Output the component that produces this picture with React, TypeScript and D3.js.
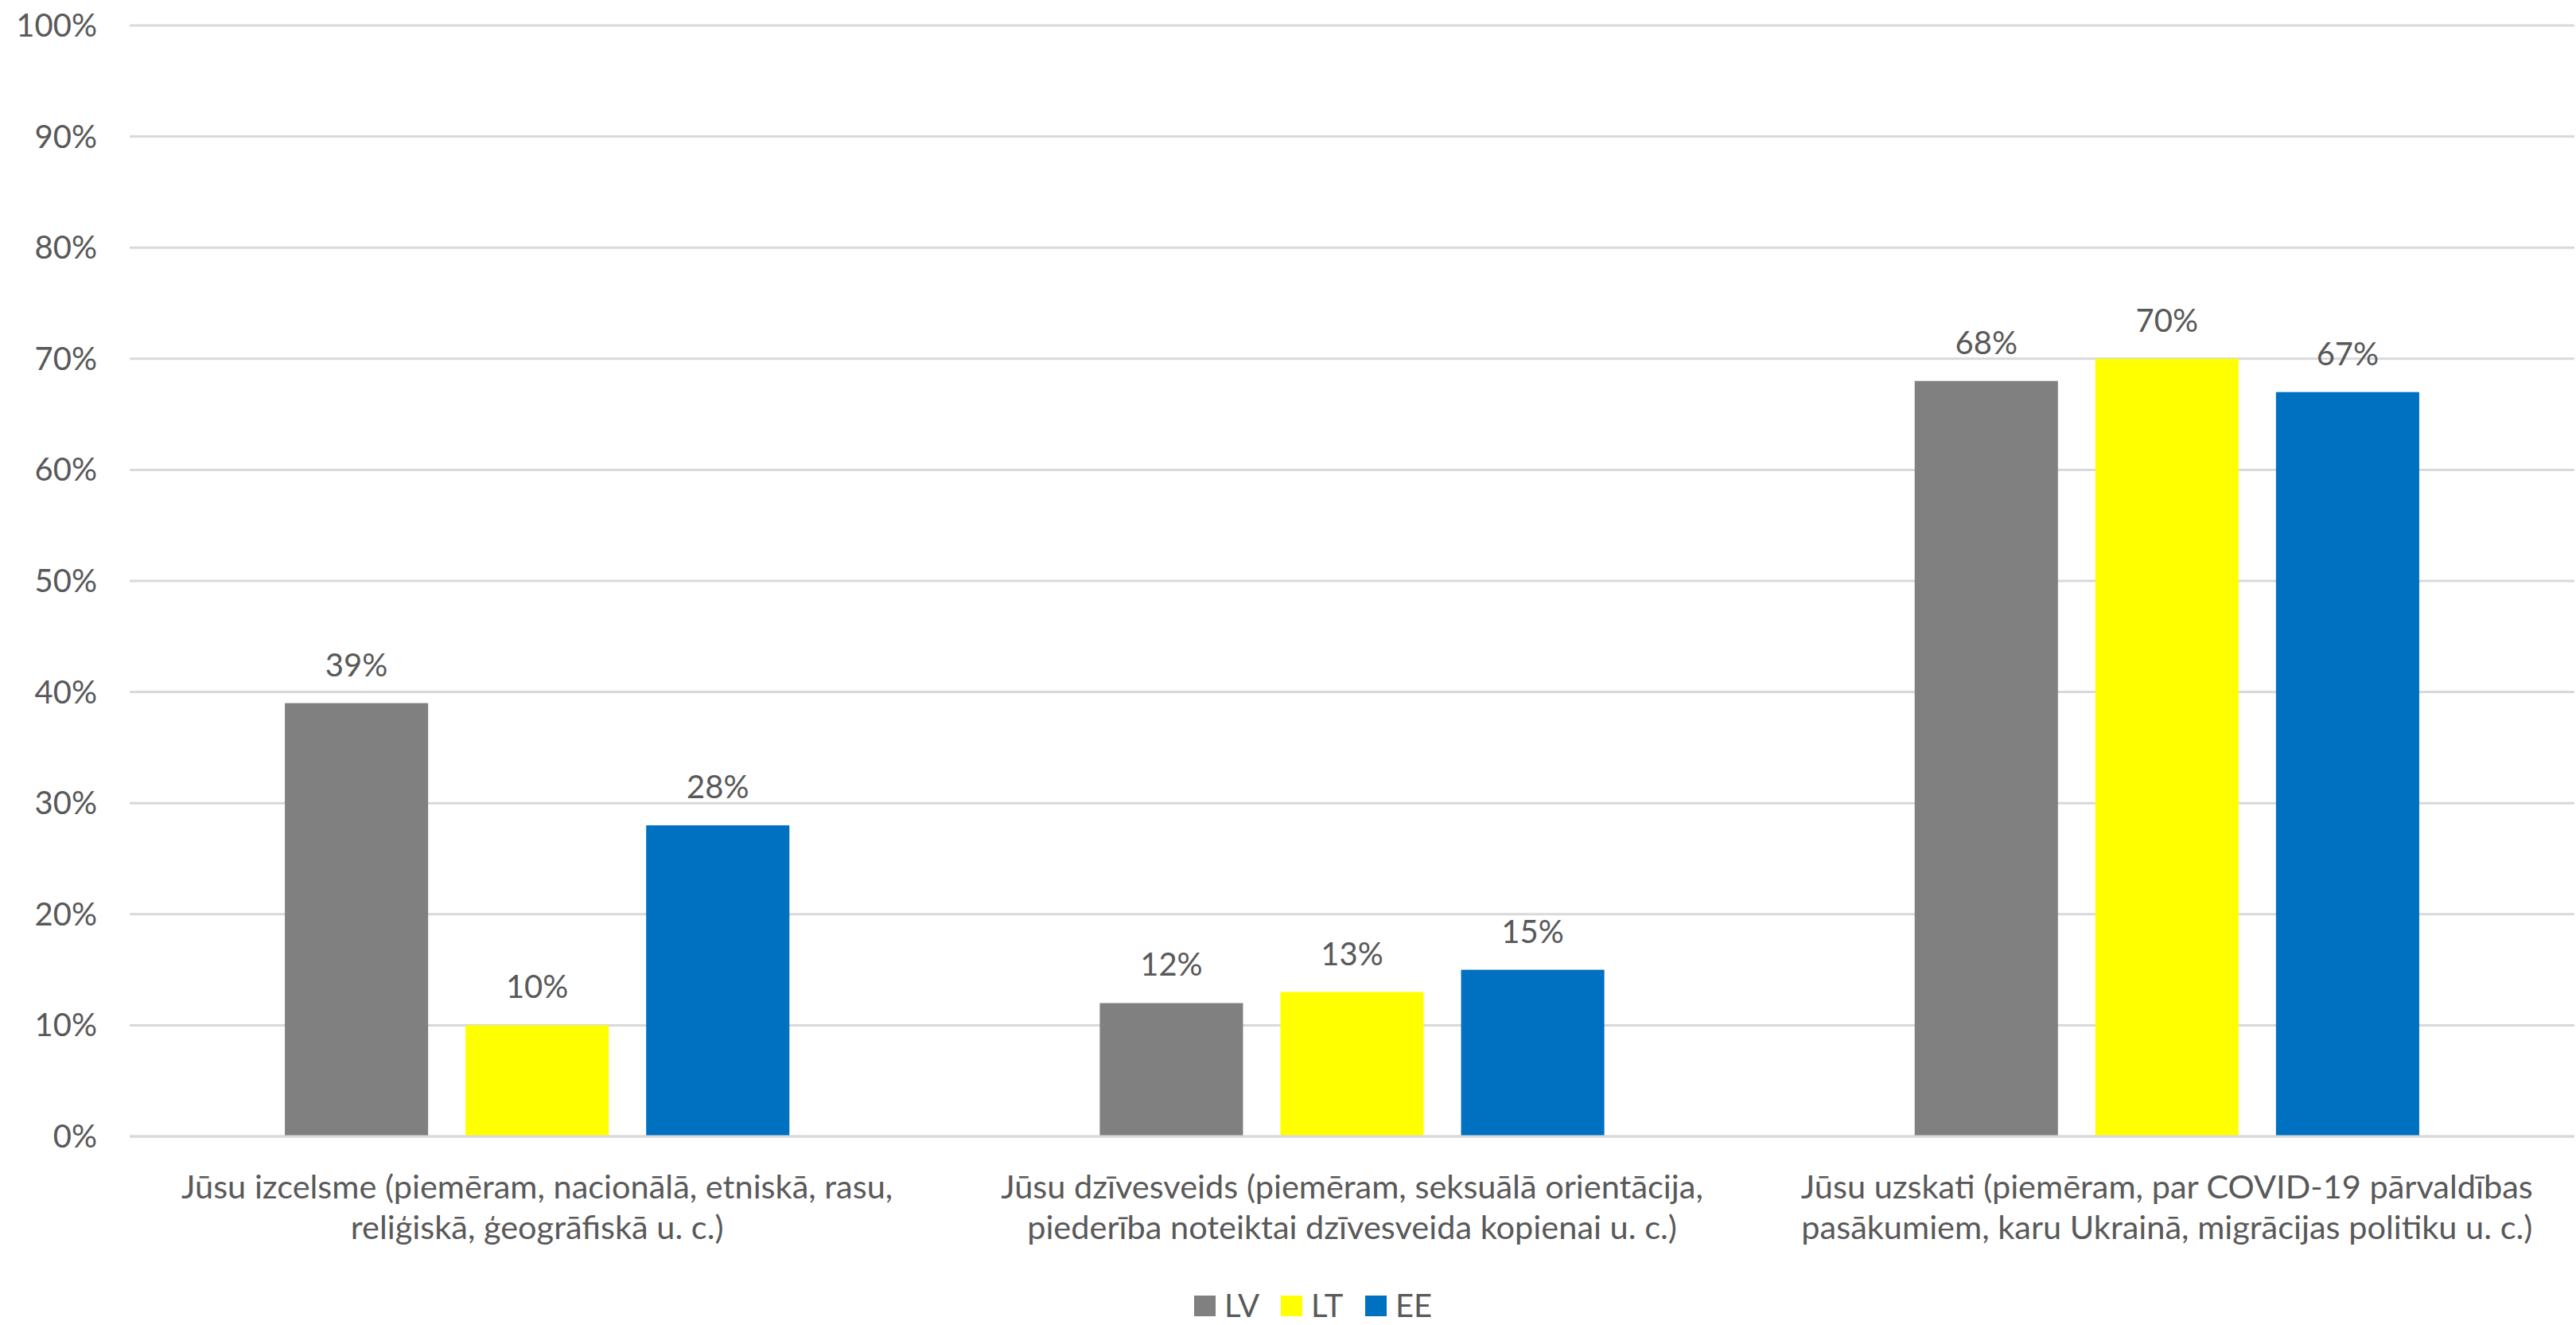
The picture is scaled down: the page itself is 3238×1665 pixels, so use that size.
import React from "react";
import * as d3 from "d3";

const categories: string[][] = [
  ["Jūsu izcelsme (piemēram, nacionālā, etniskā, rasu,", "reliģiskā, ģeogrāfiskā u. c.)"],
  ["Jūsu dzīvesveids (piemēram, seksuālā orientācija,", "piederība noteiktai dzīvesveida kopienai u. c.)"],
  ["Jūsu uzskati (piemēram, par COVID-19 pārvaldības", "pasākumiem, karu Ukrainā, migrācijas politiku u. c.)"],
];
const seriesNames = ["LV", "LT", "EE"];
const LV = [0.39, 0.12, 0.68];
const LT = [0.1, 0.13, 0.7];
const EE = [0.28, 0.15, 0.67];
const seriesValues = [LV, LT, EE];
const seriesColors = ["#808080", "#FFFF00", "#0070C0"];
const yTicks = [0, 0.1, 0.2, 0.3, 0.4, 0.5, 0.6, 0.7, 0.8, 0.9, 1.0];

const W = 3238;
const H = 1665;
const left = 163;
const right = 3236;
const top = 32;
const bottom = 1428;
const FONT = "Lato, 'Open Sans', sans-serif";
const TEXT = "#595959";

export default function App() {
  const catKeys = categories.map((c) => c.join(" "));
  const x = d3.scaleBand<string>().domain(catKeys).range([left, right]).paddingInner(0).paddingOuter(0);
  const xs = d3
    .scaleBand<string>()
    .domain(seriesNames)
    .range([0, x.bandwidth()])
    .paddingInner(0.207)
    .paddingOuter(0.859);
  const y = d3.scaleLinear().domain([0, 1]).range([bottom, top]);
  const fmt = d3.format(".0%");

  const legendX = [1501, 1610, 1716];

  return (
    <div style={{ position: "absolute", left: 0, top: 0 }}>
      <svg width={W} height={H} style={{ display: "block", background: "#fff" }} fontFamily={FONT}>
        <rect x={0} y={0} width={W} height={H} fill="#fff" />
        {yTicks.map((t) => (
          <g key={t}>
            <line x1={left} x2={right} y1={y(t)} y2={y(t)} stroke="#D9D9D9" strokeWidth={3} />
            <text x={122} y={y(t) + 14} textAnchor="end" fontSize={40} fill={TEXT}>
              {fmt(t)}
            </text>
          </g>
        ))}
        {seriesNames.map((s, si) =>
          catKeys.map((c, ci) => {
            const v = seriesValues[si][ci];
            const bx = (x(c) as number) + (xs(s) as number);
            return (
              <g key={s + c}>
                <rect x={bx} y={y(v)} width={xs.bandwidth()} height={bottom - y(v)} fill={seriesColors[si]} />
                <text x={bx + xs.bandwidth() / 2} y={y(v) - 34} textAnchor="middle" fontSize={40} fill={TEXT}>
                  {fmt(v)}
                </text>
              </g>
            );
          })
        )}
        <line x1={left} x2={right} y1={bottom} y2={bottom} stroke="#D9D9D9" strokeWidth={3} />
        {categories.map((lines, ci) => (
          <text key={ci} textAnchor="middle" fontSize={41.5} fill={TEXT}>
            {lines.map((ln, li) => (
              <tspan key={li} x={(x(catKeys[ci]) as number) + x.bandwidth() / 2} y={1506 + li * 51}>
                {ln}
              </tspan>
            ))}
          </text>
        ))}
        {seriesNames.map((s, si) => (
          <g key={s}>
            <rect x={legendX[si]} y={1628} width={27} height={26} fill={seriesColors[si]} />
            <text x={legendX[si] + 38} y={1655} fontSize={40} fill={TEXT}>
              {s}
            </text>
          </g>
        ))}
      </svg>
    </div>
  );
}
